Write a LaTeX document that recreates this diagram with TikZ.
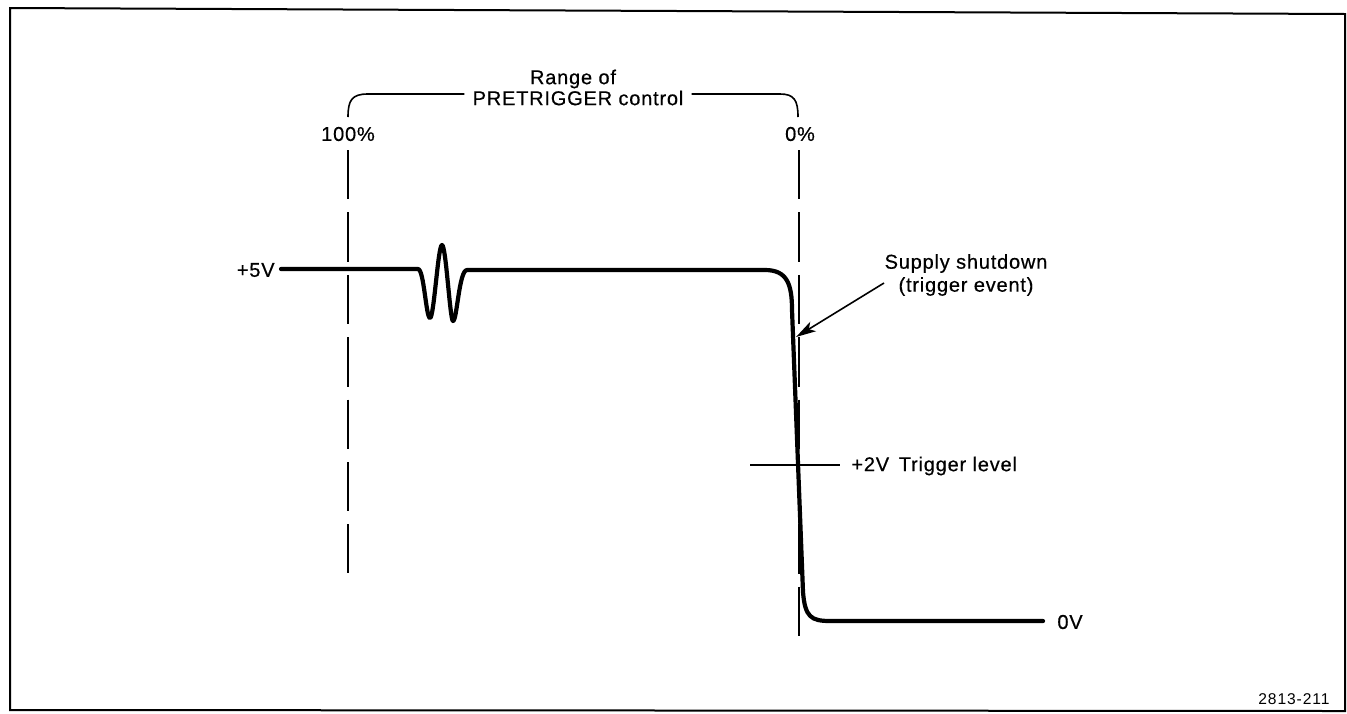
\documentclass[tikz,border=0pt]{standalone}
\usepackage{fontspec}
\setmainfont{Liberation Sans}[LetterSpace=4,FakeBold=0.5]
\newfontfamily\fignum{Liberation Sans}[LetterSpace=6]
\usetikzlibrary{arrows.meta}
\begin{document}
\begin{tikzpicture}[x=0.5pt,y=-0.5pt,
  lbl/.style={inner sep=0pt,font=\fontsize{10}{11.5}\selectfont},
  small/.style={inner sep=0pt,font=\fignum\fontsize{7.8}{9}\selectfont},
  frameline/.style={line width=1pt},
  guide/.style={line width=1pt,dash pattern=on 24.7pt off 6.5pt},
  signal/.style={line width=2.1pt,line join=round,line cap=round},
  thin/.style={line width=0.8pt},
  pointer/.style={line width=0.8pt,-{Stealth[length=10pt,width=5.5pt,inset=2.5pt]}}]
\useasboundingbox (0,0) rectangle (1347,713);
% frame
\draw[frameline] (10,8) -- (1345,14) -- (1345,711) -- (10,710) -- cycle;
% range bracket and labels
\node[lbl] (range) at (573,79) {Range of};
\node[lbl] (pre) at (578,98) {PRETRIGGER control};
\coordinate (bl) at (348,117);
\coordinate (br) at (798,117);
\draw[thin] (bl) .. controls (348,100) and (352,94) .. (368,94) -- ([xshift=-4pt]pre.west|-368,94);
\draw[thin] ([xshift=4pt]pre.east|-0,94) -- (780,94) .. controls (794,94) and (798,100) .. (br);
\node[lbl] (p100) at (348,134) {100\%};
\node[lbl] (p0) at (800,134) {0\%};
% guide lines
\coordinate (g1t) at (348,150);
\coordinate (g1b) at (348,573);
\coordinate (g2t) at (799,150);
\coordinate (g2b) at (799,636);
\draw[guide] (g1t) -- (g1b);
\draw[guide] (g2t) -- (g2b);
% labels of levels
\node[lbl,anchor=east] (v5) at (275,270) {+5V};
\node[lbl,anchor=west] (v0) at (1057,622) {0V};
% waveform
\draw[signal] (281,269) -- (418,269)
  .. controls (424,269) and (426,318) .. (430,318)
  .. controls (434,318) and (438,245) .. (442,245)
  .. controls (446,245) and (450,321) .. (453,321)
  .. controls (457,321) and (459,270) .. (467,270)
  -- (765,270)
  .. controls (787,270) and (792,284) .. (792,310)
  -- (803,592)
  .. controls (805,617) and (811,621) .. (830,621) -- (1043,621);
% trigger level
\coordinate (tl1) at (750,465);
\coordinate (tl2) at (840,465);
\draw[line width=1pt] (tl1) -- (tl2);
\node[lbl,anchor=west] (trig) at (851,466) {+2V\, Trigger level};
% trigger event
\node[lbl,align=center] (sup) at (966,275) {Supply shutdown\\(trigger event)};
\coordinate (tip) at (796,337);
\draw[pointer] (884,283) -- (tip);
% figure number
\node[small,anchor=east] (fig) at (1330,699) {2813-211};
\end{tikzpicture}
\end{document}
